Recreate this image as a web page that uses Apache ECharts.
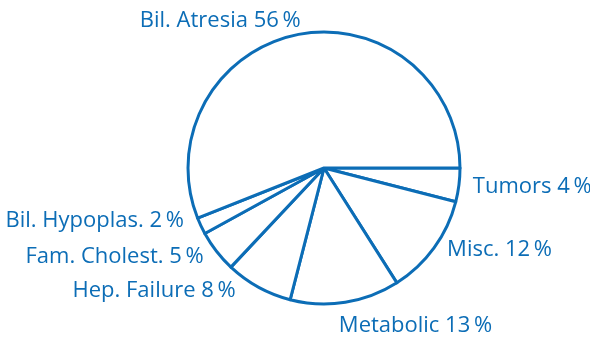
<!DOCTYPE html>
<html><head><meta charset="utf-8">
<script src="https://cdn.jsdelivr.net/npm/echarts@6/dist/echarts.min.js"></script>
<style>html,body{margin:0;padding:0;background:#fff}#c{width:590px;height:337px}</style>
</head><body><div id="c"></div>
<script>
const categories = ['Tumors', 'Misc.', 'Metabolic', 'Hep. Failure', 'Fam. Cholest.', 'Bil. Hypoplas.', 'Bil. Atresia'];
const values = [4, 12, 13, 8, 5, 2, 56];

// small label nudges relative to ECharts' own outside-label placement
const labelNudge = {
  'Tumors': [-6, 0], 'Misc.': [-5, -4], 'Metabolic': [-18, 14],
  'Hep. Failure': [-8, -5], 'Fam. Cholest.': [5, -1], 'Bil. Hypoplas.': [2, -9],
  'Bil. Atresia': [14, -4]
};

const BLUE = '#0c6db6';
const chart = echarts.init(document.getElementById('c'), null, {renderer: 'canvas'});
chart.setOption({
  animation: false,
  backgroundColor: '#fff',
  series: [{
    type: 'pie',
    center: [324, 168],
    radius: [0, 136],
    startAngle: 0,
    clockwise: true,
    avoidLabelOverlap: false,
    itemStyle: {color: '#fff', borderColor: BLUE, borderWidth: 3},
    label: {
      show: true, position: 'outside', color: BLUE,
      fontFamily: 'Open Sans', fontSize: 22, overflow: 'none',
      formatter: p => p.name + ' ' + p.value + '\u2009%'
    },
    labelLine: {show: false, length: 10, length2: 5},
    labelLayout: p => {
      const n = labelNudge[categories[p.dataIndex]] || [0, 0];
      return {dx: n[0], dy: n[1]};
    },
    data: categories.map((c, i) => ({name: c, value: values[i]}))
  }]
});
</script></body></html>
